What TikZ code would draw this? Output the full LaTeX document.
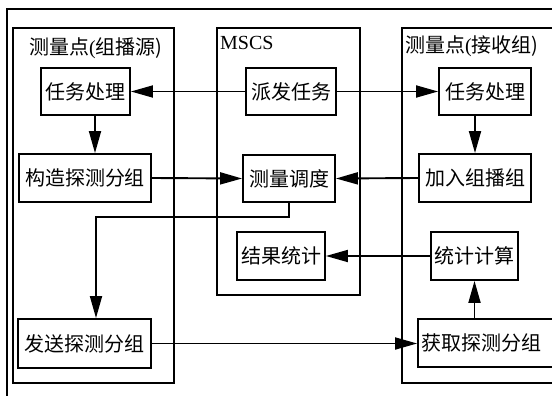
\documentclass[tikz,border=0pt]{standalone}
\usepackage{fontspec}
\setmainfont{Liberation Serif}
\newfontfamily\cjk{Noto Sans CJK SC}
\usetikzlibrary{arrows.meta}
\tikzset{
  box/.style={draw, line width=1.9pt, fill=white, inner sep=0pt, font=\fontsize{20}{22}\selectfont\cjk},
  panel/.style={draw, line width=1.8pt},
  link/.style={line width=1.9pt, -{Triangle[length=22pt,width=12pt]}},
  title/.style={inner sep=0pt, anchor=west, font=\fontsize{20}{22}\selectfont}
}
\begin{document}
\begin{tikzpicture}[x=1pt,y=-1pt]
\useasboundingbox (0,0) rectangle (552,396);
\clip (0,0) rectangle (552,396);
\fill[white] (0,0) rectangle (552,396);
% outer frame
\draw[line width=2.3pt] (7,420) -- (7,9) -- (580,9);
% panels
\draw[panel] (13,28) rectangle (174,383);
\draw[panel] (217,28) rectangle (360,295);
\draw[panel] (402,28) rectangle (580,383);
% titles
\node[title] (t1) at (29,48) {{\cjk 测量点}(\cjk 组播源)};
\node[title] (t2) at (220,43) {MSCS};
\node[title] (t3) at (405,46) {{\cjk 测量点}(\cjk 接收组)};
% boxes
\node[box, minimum width=89pt, minimum height=47pt] (L1) at (85.5,91.5) {任务处理};
\node[box, minimum width=132pt, minimum height=48pt] (L2) at (85,178) {构造探测分组};
\node[box, minimum width=133pt, minimum height=49pt] (L3) at (84.5,343.5) {发送探测分组};
\node[box, minimum width=90pt, minimum height=47pt] (M1) at (291,91.5) {派发任务};
\node[box, minimum width=92pt, minimum height=47pt] (M2) at (289,178.5) {测量调度};
\node[box, minimum width=88pt, minimum height=48pt] (M3) at (281,256) {结果统计};
\node[box, minimum width=92pt, minimum height=47pt] (R1) at (485,91.5) {任务处理};
\node[box, minimum width=112pt, minimum height=48pt] (R2) at (475,178) {加入组播组};
\node[box, minimum width=87pt, minimum height=48pt] (R3) at (474.5,256) {统计计算};
\node[box, minimum width=138pt, minimum height=48pt, text width=132pt, align=left] (R4) at (487,343) {获取探测分组};
\coordinate (c1) at (96,217);
\coordinate (xl) at (95,0);
\coordinate (xr) at (475,0);
% connectors
\draw[link] (M1.west) -- (L1.east);
\draw[link] (M1.east) -- (R1.west);
\draw[link] (L1.south -| xl) -- (L2.north -| xl);
\draw[link] (R1.south -| xr) -- (R2.north -| xr);
\draw[link] (L2.east) -- (M2.west);
\draw[link] (R2.west) -- (M2.east);
\draw[link] (M2.south) |- (c1) -- (c1 |- L3.north);
\draw[link] (L3.east) -- (L3.east -| R4.west);
\draw[link] (R4.north -| R3.south) -- (R3.south);
\draw[link] (R3.west) -- (M3.east);
\end{tikzpicture}
\end{document}
